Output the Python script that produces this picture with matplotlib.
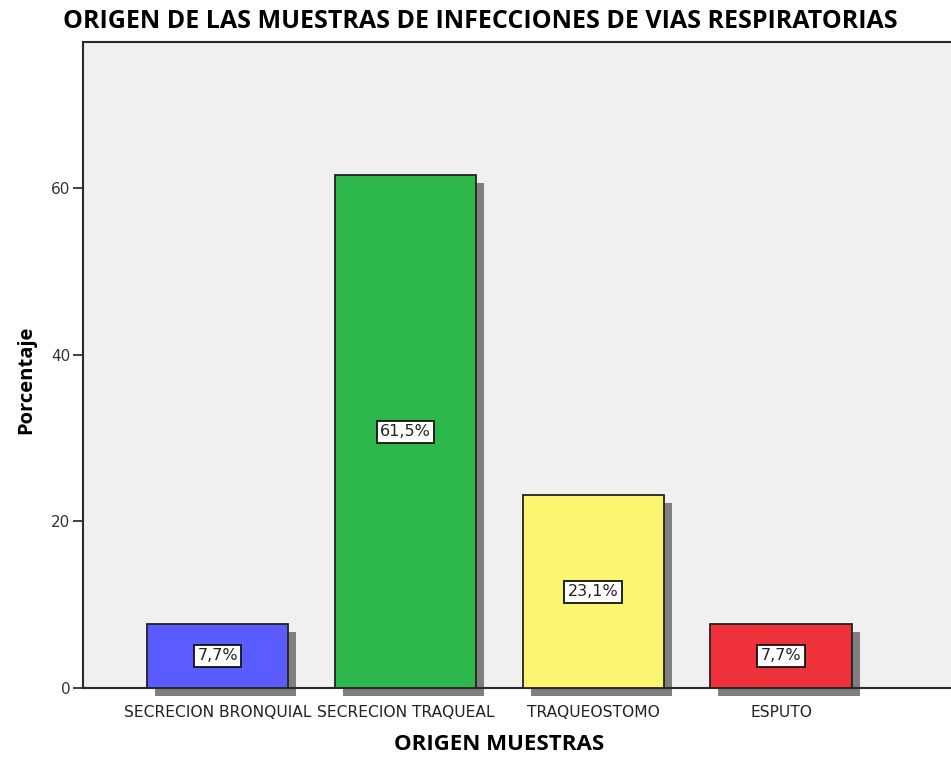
import matplotlib
matplotlib.use("Agg")
import matplotlib.pyplot as plt
import matplotlib.transforms as mtransforms

categories = ["SECRECION BRONQUIAL", "SECRECION TRAQUEAL", "TRAQUEOSTOMO", "ESPUTO"]
values = [7.7, 61.5, 23.1, 7.7]
labels = ["7,7%", "61,5%", "23,1%", "7,7%"]
colors = ["#5A5CFF", "#2EB84B", "#FAF670", "#EF323A"]
yticks = [0, 20, 40, 60]

fig = plt.figure(figsize=(9.51, 7.59), dpi=100)
ax = fig.add_axes([83/951, 71/759, 1 - 83/951 + 0.002, (688-42)/759])
ax.set_facecolor("#F0F0F0")

x = list(range(len(categories)))
width = 0.752

shadow_tr = mtransforms.offset_copy(ax.transData, fig=fig, x=8, y=-8, units="dots")
ax.bar(x, values, width=width, color="#7F7F7F", edgecolor="none",
       transform=shadow_tr, clip_on=False, zorder=2)
ax.bar(x, values, width=width, color=colors, edgecolor="#222222",
       linewidth=1.3, zorder=3)

for xi, v, lab in zip(x, values, labels):
    ax.text(xi, v / 2, lab, ha="center", va="center", fontsize=11.5,
            color="#222222", zorder=4,
            bbox=dict(boxstyle="square,pad=0.22", facecolor="white",
                      edgecolor="#111111", linewidth=1.3))

ax.set_xlim(-0.717, 3.915)
ax.set_ylim(0, 77.5)
ax.set_yticks(yticks)
ax.set_yticklabels([str(t) for t in yticks], fontsize=11, color="#333333")
ax.set_xticks(x)
ax.set_xticklabels(categories, fontsize=11.2, color="#222222")
ax.tick_params(axis="y", length=7, width=1.2, color="#222222", pad=2)
ax.tick_params(axis="x", length=3, width=1, color="#222222", pad=9)

for side in ["left", "bottom", "top"]:
    ax.spines[side].set_color("#2A2A2A")
    ax.spines[side].set_linewidth(1.5)
ax.spines["right"].set_visible(False)

ax.set_ylabel("Porcentaje", fontsize=14.5, fontweight="bold", family="Open Sans",
              va="center")
ax.yaxis.set_label_coords((26 - 83) / 868, (688 - 380) / 646)
ax.set_xlabel("ORIGEN MUESTRAS", fontsize=16, fontweight="bold", family="Open Sans",
              va="center")
ax.xaxis.set_label_coords((498 - 83) / 868, -(745 - 688) / 646)
fig.text(480/951, 1 - 22/759, "ORIGEN DE LAS MUESTRAS DE INFECCIONES DE VIAS RESPIRATORIAS",
         ha="center", va="center", fontsize=18, fontweight="bold", family="Open Sans")

fig.savefig("out.png", dpi=100, facecolor="white")
